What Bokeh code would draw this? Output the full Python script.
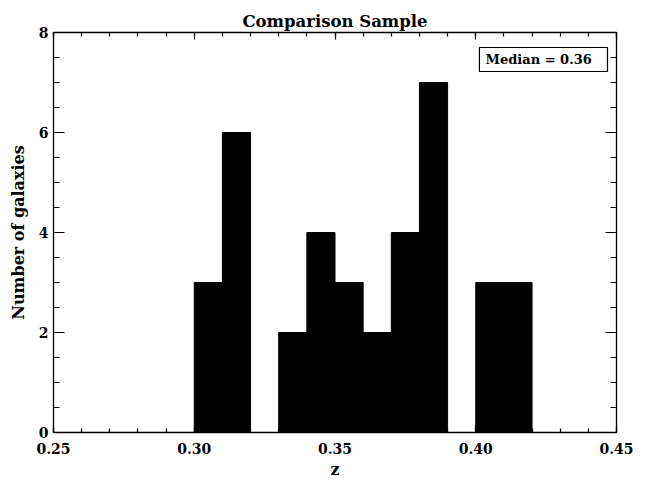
from bokeh.plotting import figure
from bokeh.models import (LinearAxis, Range1d, SingleIntervalTicker, Label,
                          BoxAnnotation, PrintfTickFormatter, CustomJSTickFormatter)
from bokeh.embed import file_html
from bokeh.resources import INLINE

# Histogram data
bin_left = [0.30, 0.31, 0.32, 0.33, 0.34, 0.35, 0.36, 0.37, 0.38, 0.39, 0.40, 0.41]
bin_right = [0.31, 0.32, 0.33, 0.34, 0.35, 0.36, 0.37, 0.38, 0.39, 0.40, 0.41, 0.42]
counts = [3, 6, 0, 2, 4, 3, 2, 4, 7, 0, 3, 3]
x_ticks = [0.25, 0.30, 0.35, 0.40, 0.45]
y_ticks = [0, 2, 4, 6, 8]
title_text = "Comparison Sample"
x_label = "z"
y_label = "Number of galaxies"
median_text = "Median = 0.36"

FONT = "DejaVu Serif"

p = figure(width=650, height=481, output_backend="svg", toolbar_location=None,
           x_range=Range1d(0.25, 0.45), y_range=Range1d(0, 8),
           x_axis_location=None, y_axis_location=None,
           min_border_left=53, min_border_right=34, min_border_top=32, min_border_bottom=49)
p.title.text = title_text
p.title.align = "center"
p.title.text_font = FONT
p.title.text_font_size = "16.5px"
p.title.text_font_style = "bold"
p.title.text_color = "black"
p.title.standoff = 4
p.title.offset = 0
p.outline_line_color = None
p.xgrid.visible = False
p.ygrid.visible = False
p.background_fill_color = "white"
p.border_fill_color = "white"

def style_axis(ax, tick_in, minor_in, show_labels):
    ax.axis_line_color = "black"
    ax.axis_line_width = 1.3
    ax.major_tick_line_color = "black"
    ax.minor_tick_line_color = "black"
    ax.major_tick_line_width = 1.2
    ax.minor_tick_line_width = 1.2
    ax.major_tick_in = tick_in
    ax.major_tick_out = 0
    ax.minor_tick_in = minor_in
    ax.minor_tick_out = 0
    ax.major_label_text_font = FONT
    ax.major_label_text_font_style = "bold"
    ax.major_label_text_font_size = "14px"
    ax.major_label_text_color = "black"
    ax.axis_label_text_font = FONT
    ax.axis_label_text_font_style = "bold"
    ax.axis_label_text_font_size = "16px"
    ax.axis_label_text_color = "black"
    if not show_labels:
        ax.formatter = CustomJSTickFormatter(code="return '';")
        ax.major_label_standoff = 0

xt = dict(interval=0.05, num_minor_ticks=5)
yt = dict(interval=2, num_minor_ticks=4)

xb = LinearAxis(ticker=SingleIntervalTicker(**xt), axis_label=x_label,
                formatter=PrintfTickFormatter(format="%.2f"))
style_axis(xb, 7, 4, True)
xb.major_label_standoff = 10
xb.axis_label_standoff = 3
p.add_layout(xb, "below")

xa = LinearAxis(ticker=SingleIntervalTicker(**xt))
style_axis(xa, 7, 4, False)
p.add_layout(xa, "above")

yl = LinearAxis(ticker=SingleIntervalTicker(**yt), axis_label=y_label)
style_axis(yl, 11, 6, True)
yl.major_label_standoff = 5
yl.axis_label_standoff = 8
p.add_layout(yl, "left")

yr = LinearAxis(ticker=SingleIntervalTicker(**yt))
style_axis(yr, 11, 6, False)
p.add_layout(yr, "right")

p.quad(left=bin_left, right=bin_right, bottom=0, top=counts,
       fill_color="black", line_color="black", line_width=1)

box = BoxAnnotation(left=0.4013, right=0.4468, top=7.70, bottom=7.22,
                    fill_color="white", fill_alpha=1.0,
                    line_color="black", line_alpha=1.0, line_width=1.2)
p.add_layout(box)
lab = Label(x=0.4035, y=7.46, text=median_text, text_font=FONT,
            text_font_style="bold", text_font_size="13px",
            text_baseline="middle", text_align="left", text_color="black")
p.add_layout(lab)

open("out.html", "w").write(file_html(p, INLINE))
